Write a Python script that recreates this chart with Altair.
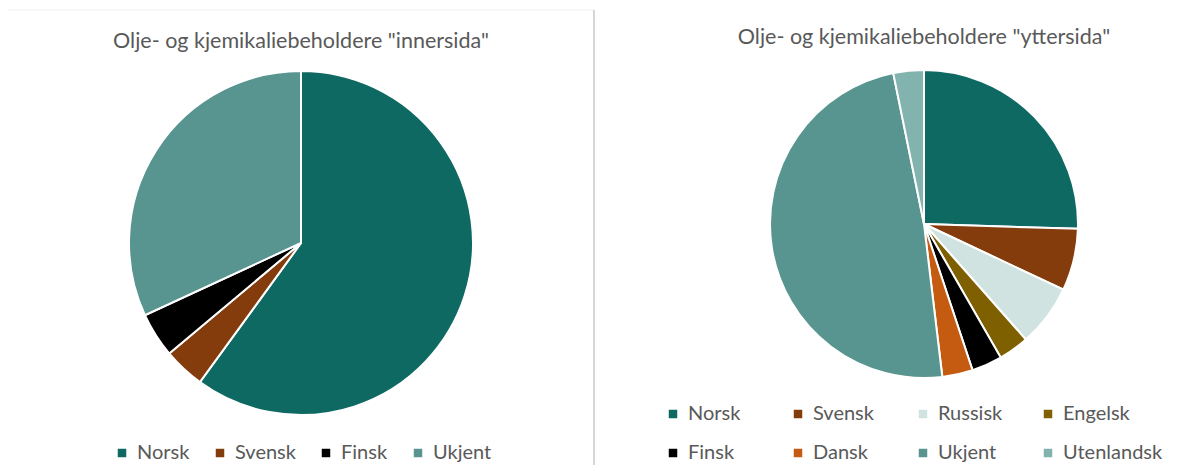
import altair as alt
import pandas as pd

FONT = "Lato"
TEXT_COLOR = "#595959"

left_title = 'Olje- og kjemikaliebeholdere "innersida"'
left_cats = ["Norsk", "Svensk", "Finsk", "Ukjent"]
left_vals = [60.0, 3.9, 4.2, 31.9]
left_colors = ["#0E6963", "#843C0C", "#000000", "#589590"]

right_title = 'Olje- og kjemikaliebeholdere "yttersida"'
right_cats = ["Norsk", "Svensk", "Russisk", "Engelsk", "Finsk", "Dansk", "Ukjent", "Utenlandsk"]
right_vals = [25.5, 6.5, 6.5, 3.2, 3.2, 3.2, 48.7, 3.2]
right_colors = ["#0E6963", "#843C0C", "#D1E3E1", "#7F6000", "#000000", "#C55A11", "#589590", "#83B3AF"]

left_df = pd.DataFrame({"cat": left_cats, "value": left_vals, "idx": list(range(len(left_cats)))})
right_df = pd.DataFrame({"cat": right_cats, "value": right_vals, "idx": list(range(len(right_cats)))})


def legend(x, y, col_pad, grid):
    return alt.Legend(
        orient="none", legendX=x, legendY=y, direction="horizontal", columns=4,
        title=None, symbolType="square", symbolSize=72, symbolStrokeWidth=0,
        labelFontSize=20, labelFont=FONT, labelColor=TEXT_COLOR, labelOffset=5,
        columnPadding=col_pad, rowPadding=19, gridAlign=grid, labelLimit=300,
    )


left_pie = alt.Chart(left_df).mark_arc(outerRadius=172, stroke="white", strokeWidth=2).encode(
    theta=alt.Theta("value:Q", stack=True),
    order=alt.Order("idx:Q"),
    color=alt.Color("cat:N", sort=left_cats,
                    scale=alt.Scale(domain=left_cats, range=left_colors),
                    legend=legend(104, 435, 20, "each")),
    x=alt.value(293), y=alt.value(235),
)

right_pie = alt.Chart(right_df).mark_arc(outerRadius=154, stroke="white", strokeWidth=2).encode(
    theta=alt.Theta("value:Q", stack=True),
    order=alt.Order("idx:Q"),
    color=alt.Color("cat:N", sort=right_cats,
                    scale=alt.Scale(domain=right_cats, range=right_colors),
                    legend=legend(655, 396, 0, "all")),
    x=alt.value(916), y=alt.value(216),
)

left_t = alt.Chart(pd.DataFrame({"t": [left_title]})).mark_text(
    font=FONT, fontSize=21.5, color=TEXT_COLOR, align="center", baseline="middle"
).encode(text="t:N", x=alt.value(293), y=alt.value(34))

right_t = alt.Chart(pd.DataFrame({"t": [right_title]})).mark_text(
    font=FONT, fontSize=21.5, color=TEXT_COLOR, align="center", baseline="middle"
).encode(text="t:N", x=alt.value(916), y=alt.value(30))

divider = alt.Chart(pd.DataFrame({"a": [0]})).mark_rule(color="#C8C8C8", strokeWidth=1.5).encode(
    x=alt.value(586), y=alt.value(2), y2=alt.value(465))
top_border = alt.Chart(pd.DataFrame({"a": [0]})).mark_rule(color="#EFEFEF", strokeWidth=1).encode(
    x=alt.value(0), x2=alt.value(586), y=alt.value(2))

chart = alt.layer(top_border, divider, left_pie, right_pie, left_t, right_t).resolve_scale(
    theta="independent", color="independent"
).properties(
    width=1171, height=457, padding=0, autosize=alt.AutoSizeParams(type="none")
).configure_view(stroke=None)

chart.save("out.html", embed_options={"renderer": "svg", "actions": False})
